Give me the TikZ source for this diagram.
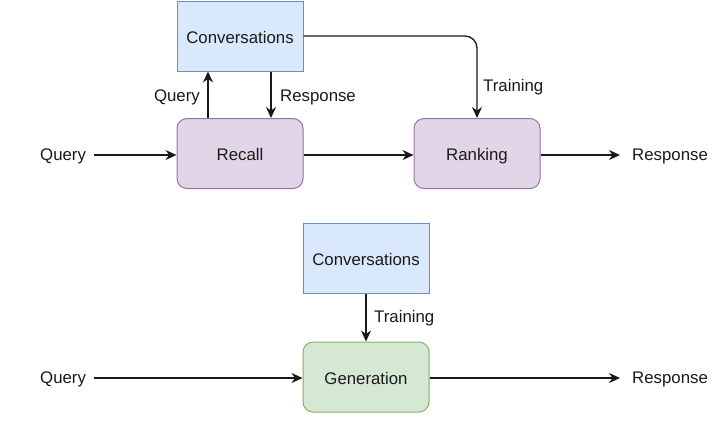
\documentclass[tikz,border=0pt]{standalone}
\usepackage{fontspec}
\setmainfont{Liberation Sans}
\usetikzlibrary{arrows.meta}
\definecolor{bluefill}{HTML}{DAE8FC}
\definecolor{bluedraw}{HTML}{6C8EBF}
\definecolor{purpfill}{HTML}{E1D5E7}
\definecolor{purpdraw}{HTML}{9673A6}
\definecolor{greenfill}{HTML}{D5E8D4}
\definecolor{greendraw}{HTML}{82B366}
\definecolor{txt}{HTML}{1A1A1A}
\tikzset{
  box/.style={draw, line width=1pt, minimum width=126pt, minimum height=70pt, inner sep=0pt, text=txt, font=\fontsize{16.8}{20}\selectfont, text height=15pt, text depth=1pt},
  convbox/.style={box, fill=bluefill, draw=bluedraw},
  recbox/.style={box, fill=purpfill, draw=purpdraw, rounded corners=10pt},
  genbox/.style={box, fill=greenfill, draw=greendraw, rounded corners=10pt},
  lbl/.style={text=txt, font=\fontsize{16.8}{20}\selectfont, inner sep=0pt, text height=13.5pt, text depth=2.5pt},
  conn/.style={line width=1.3pt, draw=black!90, -{Stealth[length=11pt,width=10pt]}},
}
\begin{document}
\begin{tikzpicture}[x=1pt,y=-1pt]
\useasboundingbox (0,0) rectangle (719,421);
\fill[white] (0,0) rectangle (719,421);
% top
\node[convbox] (conv1) at (240,36) {Conversations};
\node[recbox] (recall) at (240,153.5) {Recall};
\node[recbox] (rank) at (477,153.5) {Ranking};
\node[lbl, anchor=west] (q1) at (40,155) {Query};
\node[lbl, anchor=west] (r1) at (632,155) {Response};
\coordinate (q1e) at (94,155);
\coordinate (r1s) at (620,155);
\draw[conn] (q1e) -- (recall.west |- q1e);
\draw[conn] (recall.east |- q1e) -- (rank.west |- q1e);
\draw[conn] (rank.east |- q1e) -- (r1s);
\draw[conn] (recall.north -| 208,0) -- (conv1.south -| 208,0);
\node[lbl, anchor=east] (ql) at (200,96) {Query};
\draw[conn] (conv1.south -| 271,0) -- (recall.north -| 271,0);
\node[lbl, anchor=west] (rl) at (280,96) {Response};
\draw[conn, rounded corners=12pt] (conv1.east |- 0,36) -| (rank.north);
\node[lbl, anchor=west] (tl1) at (483,86) {Training};
% bottom
\node[convbox] (conv2) at (366,258) {Conversations};
\node[genbox] (gen) at (366,377) {Generation};
\node[lbl, anchor=west] (q2) at (40,378) {Query};
\node[lbl, anchor=west] (r2) at (632,378) {Response};
\coordinate (q2e) at (94,378);
\coordinate (r2s) at (620,378);
\draw[conn] (q2e) -- (gen.west |- q2e);
\draw[conn] (gen.east |- q2e) -- (r2s);
\draw[conn] (conv2) -- (gen);
\node[lbl, anchor=west] (tl2) at (374,317) {Training};
\end{tikzpicture}
\end{document}
